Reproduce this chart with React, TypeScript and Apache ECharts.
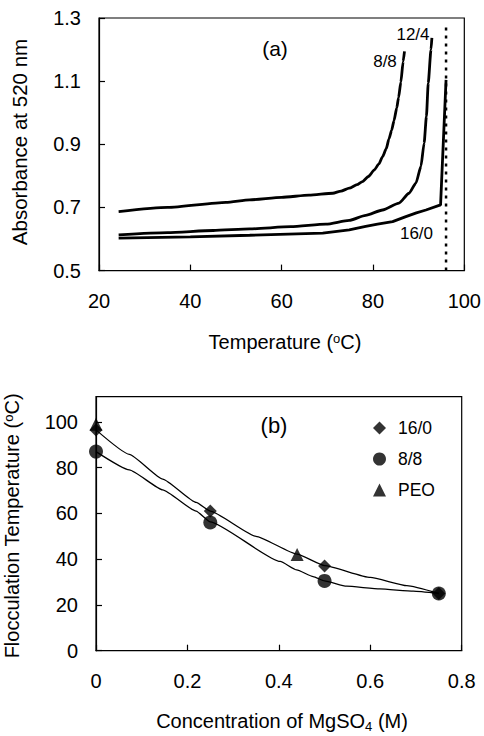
import { useEffect, useRef } from "react";
import * as echarts from "echarts";

// ---- (a) absorbance at 520 nm vs temperature ----
const temp88 = [24.3, 35, 47.8, 53, 60, 66, 71.2, 73, 74.8, 76.5, 77.7, 79, 80.3, 81.3, 82.1, 82.9, 83.5, 84.1, 84.6, 85.2, 85.6, 86.1, 86.6, 86.9];
const abs88 = [0.687, 0.700, 0.716, 0.724, 0.732, 0.739, 0.745, 0.752, 0.761, 0.772, 0.782, 0.798, 0.819, 0.838, 0.861, 0.886, 0.917, 0.945, 0.975, 1.015, 1.048, 1.097, 1.162, 1.194];

const temp124 = [24.3, 35, 45, 53, 62, 69.7, 74.8, 78.4, 82.1, 85.7, 87.9, 89.4, 90.5, 91.2, 91.7, 92.1, 92.7, 92.9];
const abs124 = [0.613, 0.620, 0.627, 0.632, 0.639, 0.647, 0.659, 0.675, 0.692, 0.714, 0.745, 0.777, 0.830, 0.904, 0.988, 1.094, 1.200, 1.237];

const temp160 = [24.3, 40, 53, 69, 74.8, 78.4, 81, 84.3, 87.2, 89.5, 91.6, 94.8, 96.0];
const abs160 = [0.603, 0.607, 0.612, 0.619, 0.629, 0.640, 0.647, 0.655, 0.671, 0.683, 0.692, 0.708, 1.104];

// dotted vertical marker
const markTemp = [96, 96];
const markAbs = [0.5, 1.28];

// ---- (b) flocculation temperature vs MgSO4 concentration ----
const mgso4 = [0, 0.25, 0.5, 0.75];
const floc160 = [96.5, 61, 37, 25];
const floc88 = [87, 56, 30.5, 25];
const peoMgso4 = [0, 0.44];
const peoFloc = [99, 42];

// fitted trend curves
const fit160X = [0, 0.073, 0.146, 0.219, 0.25, 0.35, 0.44, 0.5, 0.6, 0.68, 0.75];
const fit160Y = [96.5, 85.8, 75, 64.8, 61, 50, 42.2, 37.2, 32, 28.4, 25];
const fit88X = [0, 0.073, 0.146, 0.219, 0.25, 0.403, 0.439, 0.475, 0.5, 0.548, 0.621, 0.694, 0.75];
const fit88Y = [87, 79, 70.3, 61, 56.3, 39, 35.3, 32.4, 30.5, 28.2, 27, 26, 25];

const FONT = '"Liberation Sans", Arial, Helvetica, sans-serif';

const pairs = (xs: number[], ys: number[]) => xs.map((x, i) => [x, ys[i]]);

function baseAxis(labelMargin: number, formatter?: (v: number) => string, showMax = true) {
  return {
    axisLine: { show: true, onZero: false, lineStyle: { color: "#000", width: 1.2 } },
    axisTick: { show: true, inside: true, length: 6, lineStyle: { color: "#000", width: 1.2 } },
    axisLabel: {
      color: "#000",
      fontSize: 20,
      fontFamily: FONT,
      margin: labelMargin,
      formatter,
      showMaxLabel: showMax,
    },
    splitLine: { show: false },
  };
}

function textEl(text: string, x: number, y: number, fontSize: number, extra: any = {}) {
  return {
    type: "text",
    x,
    y,
    silent: true,
    ...extra,
    style: {
      text,
      fontSize,
      fontFamily: FONT,
      fill: "#000",
      align: "center",
      verticalAlign: "middle",
      ...(extra.style || {}),
    },
  };
}

const richScripts = {
  sup: { fontSize: 13, fontFamily: FONT, fill: "#000", verticalAlign: "top", padding: [0, 0, 4, 0] },
  sub: { fontSize: 13, fontFamily: FONT, fill: "#000", verticalAlign: "bottom", padding: [10, 0, 0, 0] },
};

export default function App() {
  const ref = useRef<HTMLDivElement>(null);

  useEffect(() => {
    if (!ref.current) return;
    const chart = echarts.init(ref.current, undefined, { renderer: "svg" });

    const option: any = {
      animation: false,
      backgroundColor: "#fff",
      grid: [
        { left: 99, top: 18, width: 366, height: 252.6, show: true, borderColor: "#000", borderWidth: 1.2, containLabel: false },
        { left: 96, top: 396.7, width: 365.7, height: 254, show: true, borderColor: "#000", borderWidth: 1.2, containLabel: false },
      ],
      xAxis: [
        { type: "value", gridIndex: 0, min: 20, max: 100, interval: 20, ...baseAxis(20) },
        { type: "value", gridIndex: 1, min: 0, max: 0.8, interval: 0.2, ...baseAxis(20, (v: number) => (v === 0 ? "0" : String(+v.toFixed(1)))) },
      ],
      yAxis: [
        { type: "value", gridIndex: 0, min: 0.5, max: 1.3, interval: 0.2, ...baseAxis(18, (v: number) => v.toFixed(1)) },
        { type: "value", gridIndex: 1, min: 0, max: 111, interval: 20, ...baseAxis(18, undefined, false) },
      ],
      legend: {
        data: [
          { name: "16/0", icon: "diamond" },
          { name: "8/8", icon: "circle" },
          { name: "PEO", icon: "triangle" },
        ],
        orient: "vertical",
        left: 368,
        top: 414,
        itemWidth: 13,
        itemHeight: 13,
        itemGap: 13,
        selectedMode: false,
        textStyle: { fontSize: 17.5, color: "#000", fontFamily: FONT, padding: [0, 0, 0, 7] },
      },
      series: [
        {
          type: "line", name: "abs 8/8", xAxisIndex: 0, yAxisIndex: 0,
          data: pairs(temp88, abs88), symbol: "none", smooth: 0.2, smoothMonotone: "x",
          lineStyle: { color: "#000", width: 2.8 },
        },
        {
          type: "line", name: "abs 12/4", xAxisIndex: 0, yAxisIndex: 0,
          data: pairs(temp124, abs124), symbol: "none", smooth: 0.2, smoothMonotone: "x",
          lineStyle: { color: "#000", width: 2.8 },
        },
        {
          type: "line", name: "abs 16/0", xAxisIndex: 0, yAxisIndex: 0,
          data: pairs(temp160, abs160), symbol: "none", smooth: false,
          lineStyle: { color: "#000", width: 2.8 },
        },
        {
          type: "line", name: "boundary", xAxisIndex: 0, yAxisIndex: 0,
          data: pairs(markTemp, markAbs), symbol: "none",
          lineStyle: { color: "#000", width: 2.5, type: [3, 5] },
        },
        {
          type: "line", name: "curve 16/0", xAxisIndex: 1, yAxisIndex: 1,
          data: pairs(fit160X, fit160Y), symbol: "none", smooth: 0.15, smoothMonotone: "x",
          lineStyle: { color: "#000", width: 1.3 }, z: 2,
        },
        {
          type: "line", name: "curve 8/8", xAxisIndex: 1, yAxisIndex: 1,
          data: pairs(fit88X, fit88Y), symbol: "none", smooth: 0.15, smoothMonotone: "x",
          lineStyle: { color: "#000", width: 1.3 }, z: 2,
        },
        {
          type: "scatter", name: "PEO", xAxisIndex: 1, yAxisIndex: 1,
          data: pairs(peoMgso4, peoFloc), symbol: "triangle", symbolSize: 13,
          itemStyle: { color: "#000" }, z: 3,
        },
        {
          type: "scatter", name: "8/8", xAxisIndex: 1, yAxisIndex: 1,
          data: pairs(mgso4, floc88), symbol: "circle", symbolSize: 14,
          itemStyle: { color: "#000" }, z: 4,
        },
        {
          type: "scatter", name: "16/0", xAxisIndex: 1, yAxisIndex: 1,
          data: pairs(mgso4, floc160), symbol: "diamond", symbolSize: 13,
          itemStyle: { color: "#000" }, z: 5,
        },
      ],
      graphic: [
        textEl("(a)", 275, 48, 21),
        textEl("12/4", 413, 34, 17),
        textEl("8/8", 385, 61.5, 17),
        textEl("16/0", 416.5, 233.5, 17),
        textEl("(b)", 274, 425, 22),
        textEl("", 285, 342, 20, {
          style: { text: "Temperature ({sup|o}C)", rich: richScripts },
        }),
        textEl("Absorbance at 520 nm", 19, 142, 20.5, { rotation: Math.PI / 2 }),
        textEl("", 282, 721, 20, {
          style: { text: "Concentration of MgSO{sub|4} (M)", rich: richScripts },
        }),
        textEl("", 12, 526, 20, {
          rotation: Math.PI / 2,
          style: { text: "Flocculation Temperature ({sup|o}C)", rich: richScripts },
        }),
      ],
    };

    chart.setOption(option);
    return () => chart.dispose();
  }, []);

  return (
    <div
      ref={ref}
      style={{ position: "fixed", left: 0, top: 0, width: 484, height: 736, background: "#fff" }}
    />
  );
}
